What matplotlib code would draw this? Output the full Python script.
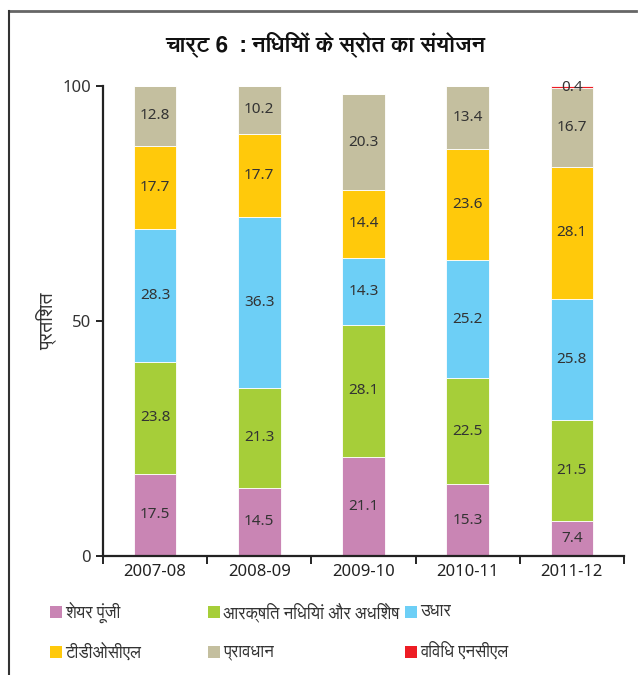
import matplotlib
matplotlib.use("Agg")
import matplotlib.pyplot as plt
from matplotlib import font_manager as fm
from matplotlib.ft2font import FT2Font
from matplotlib.patches import Rectangle
from matplotlib.lines import Line2D
import numpy as np

years = ["2007-08", "2008-09", "2009-10", "2010-11", "2011-12"]
share_capital = [17.5, 14.5, 21.1, 15.3, 7.4]
reserves = [23.8, 21.3, 28.1, 22.5, 21.5]
borrowings = [28.3, 36.3, 14.3, 25.2, 25.8]
tdocl = [17.7, 17.7, 14.4, 23.6, 28.1]
provisions = [12.8, 10.2, 20.3, 13.4, 16.7]
misc_ncl = [0.0, 0.0, 0.0, 0.0, 0.4]

series_names = ["शेयर पूंजी", "आरक्षित निधियां और अधिशेष", "उधार",
                "टीडीओसीएल", "प्रावधान", "विविध एनसीएल"]
colors = ["#C985B4", "#A6CE39", "#6DCFF6", "#FFC90B", "#C4BF9F", "#ED1C24"]
title = "चार्ट 6  : निधियों के स्रोत का संयोजन"
ylabel = "प्रतिशत"


def find_devanagari():
    regular, bold = [], []
    for f in fm.fontManager.ttflist:
        try:
            cm = FT2Font(f.fname).get_charmap()
        except Exception:
            continue
        if 0x0928 in cm:
            w = f.weight if isinstance(f.weight, int) else 400
            (bold if w >= 600 else regular).append(f.name)
    return regular, bold

dev_reg, dev_bold = find_devanagari()
pref = [n for n in dev_reg if n in dev_bold] or dev_reg or dev_bold
dev_font = pref[0] if pref else "DejaVu Sans"
fam = [dev_font, "Noto Sans", "DejaVu Sans"]
plt.rcParams['font.family'] = fam
num_fam = ["Noto Sans", "DejaVu Sans"]

fig = plt.figure(figsize=(6.38, 6.75), dpi=100)
ax = fig.add_axes([0.1614, 0.1763, 0.8166, 0.6963])

data = [share_capital, reserves, borrowings, tdocl, provisions, misc_ncl]
x = np.arange(len(years))
bottom = np.zeros(len(years))
for vals, c in zip(data, colors):
    vals = np.array(vals)
    ax.bar(x, vals, width=0.41, bottom=bottom, color=c, edgecolor="white", linewidth=0.6)
    for xi, v, b in zip(x, vals, bottom):
        if v > 0:
            ax.text(xi, b + v / 2, f"{v:.1f}", ha="center", va="center",
                    fontsize=11, color="#333333", family=num_fam)
    bottom += vals

ax.set_ylim(0, 100)
ax.set_xlim(-0.5, 4.5)
ax.set_yticks([0, 50, 100])
ax.set_yticklabels(["0", "50", "100"], fontsize=12, color="#333333", family=num_fam)
ax.set_xticks(np.arange(-0.5, 5, 1))
ax.set_xticklabels([])
ax.set_xticks(x, minor=True)
ax.set_xticklabels(years, minor=True, fontsize=12, color="#222222", family=num_fam)
ax.tick_params(axis="x", which="minor", length=0, pad=6)
ax.tick_params(axis="x", which="major", length=6, width=1.2, direction="out")
ax.tick_params(axis="y", length=5, width=1.2, direction="out")
for s in ["top", "right"]:
    ax.spines[s].set_visible(False)
for s in ["left", "bottom"]:
    ax.spines[s].set_linewidth(1.6)
    ax.spines[s].set_color("#222222")
ax.set_ylabel(ylabel, fontsize=14, color="#333333", labelpad=4)

fig.text(0.51, 0.934, title, ha="center", va="center", fontsize=16,
         fontweight="bold", color="#111111")

# frame lines
fig.add_artist(Line2D([0.0145, 0.997], [0.984, 0.984], transform=fig.transFigure,
                      color="#666666", linewidth=2))
fig.add_artist(Line2D([0.0145, 0.0145], [0.0, 0.984], transform=fig.transFigure,
                      color="#333333", linewidth=1.5))

# legend
W, H = 638, 675
pos = [(50, 612), (208, 612), (405, 612), (50, 652), (208, 652), (405, 652)]
for (px, py), name, c in zip(pos, series_names, colors):
    fig.add_artist(Rectangle((px / W, 1 - (py + 6) / H), 12 / W, 12 / H,
                             transform=fig.transFigure, facecolor=c, edgecolor="none"))
    fig.text((px + 15) / W, 1 - py / H, name, ha="left", va="center",
             fontsize=12, color="#333333")

fig.savefig("out.png", dpi=100)
